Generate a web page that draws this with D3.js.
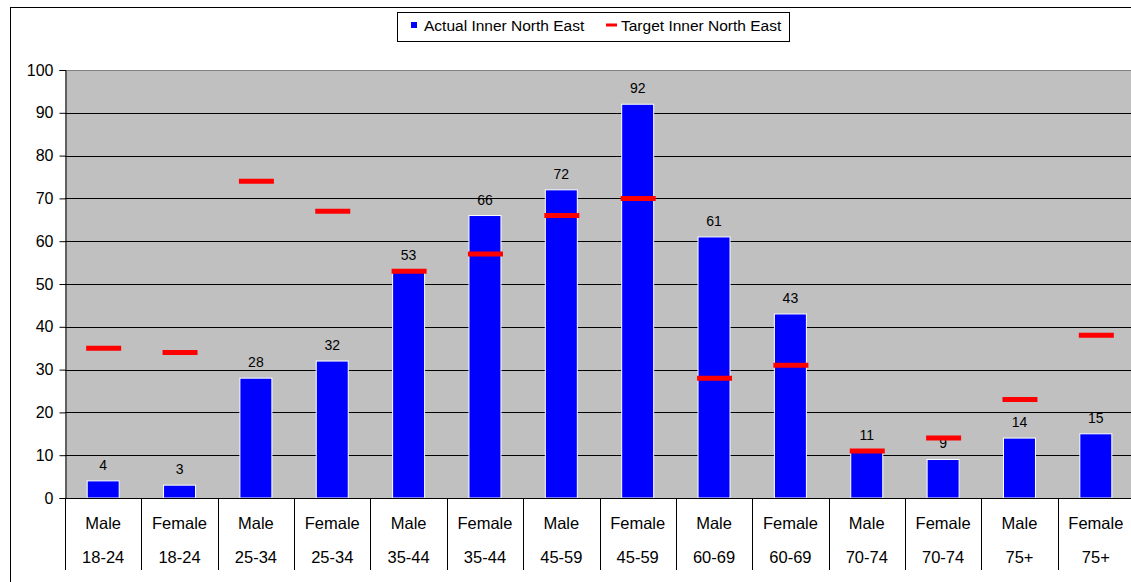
<!DOCTYPE html>
<html><head><meta charset="utf-8">
<script src="https://cdn.jsdelivr.net/npm/d3@7"></script>
<style>body{margin:0;background:#fff}svg{display:block;font-family:"Liberation Sans",Arial,sans-serif}</style>
</head><body>
<svg id="c" width="1131" height="582"></svg>
<script>
const genders = ["Male","Female","Male","Female","Male","Female","Male","Female","Male","Female","Male","Female","Male","Female"];
const ages = ["18-24","18-24","25-34","25-34","35-44","35-44","45-59","45-59","60-69","60-69","70-74","70-74","75+","75+"];
const actual = [4,3,28,32,53,66,72,92,61,43,11,9,14,15];
const target = [35,34,74,67,53,57,66,70,28,31,11,14,23,38];
const yTicks = [0,10,20,30,40,50,60,70,80,90,100];
const seriesNames = ["Actual Inner North East","Target Inner North East"];

const svg = d3.select("#c");
const L=65, R=1134, T=70, B=498;
const idx = d3.range(actual.length);
const x = d3.scaleBand().domain(idx).range([L,R]).paddingInner(0).paddingOuter(0);
const y = d3.scaleLinear().domain([0,100]).range([B,T]);

// outer frame
svg.append("line").attr("x1",10).attr("x2",1131).attr("y1",7.5).attr("y2",7.5).attr("stroke","#000");
svg.append("line").attr("x1",10.5).attr("x2",10.5).attr("y1",7).attr("y2",582).attr("stroke","#000");

// plot bg
svg.append("rect").attr("x",L).attr("y",T).attr("width",R-L).attr("height",B-T).attr("fill","#c0c0c0");
svg.append("line").attr("x1",L).attr("x2",R).attr("y1",T+0.5).attr("y2",T+0.5).attr("stroke","#808080");

// gridlines
svg.append("g").selectAll("line").data(yTicks.filter(d=>d>0&&d<100)).join("line")
  .attr("x1",L).attr("x2",R).attr("y1",d=>Math.round(y(d))+0.5).attr("y2",d=>Math.round(y(d))+0.5)
  .attr("stroke","#000");

// y axis
const ya = svg.append("g").attr("transform",`translate(${L+0.5},0)`)
  .call(d3.axisLeft(y).tickValues(yTicks).tickSize(6).tickPadding(6).tickFormat(d3.format("d")));
ya.select(".domain").attr("stroke","#000");
ya.selectAll("line").attr("stroke","#000");
ya.selectAll("text").attr("font-size",16).attr("fill","#000").attr("font-family","Liberation Sans, Arial, sans-serif");

// bars
svg.append("g").selectAll("rect").data(idx).join("rect")
  .attr("x",i=>x(i)+x.bandwidth()/2-16).attr("width",32)
  .attr("y",i=>y(actual[i])).attr("height",i=>B-y(actual[i]))
  .attr("fill","#0000ff").attr("stroke","#fff").attr("stroke-width",1);

// value labels
svg.append("g").selectAll("text").data(idx).join("text")
  .attr("x",i=>x(i)+x.bandwidth()/2).attr("y",i=>y(actual[i])-11)
  .attr("text-anchor","middle").attr("font-size",14).attr("fill","#000")
  .text(i=>actual[i]);

// targets
svg.append("g").selectAll("line").data(idx).join("line")
  .attr("x1",i=>x(i)+x.bandwidth()/2-17).attr("x2",i=>x(i)+x.bandwidth()/2+18)
  .attr("y1",i=>y(target[i])).attr("y2",i=>y(target[i]))
  .attr("stroke","#ff0000").attr("stroke-width",5);

// baseline
svg.append("line").attr("x1",L).attr("x2",R).attr("y1",B+0.5).attr("y2",B+0.5).attr("stroke","#000");

// table dividers
svg.append("g").selectAll("line").data(d3.range(actual.length+1)).join("line")
  .attr("x1",i=>Math.round(i<actual.length?x(i):R)+0.5).attr("x2",i=>Math.round(i<actual.length?x(i):R)+0.5)
  .attr("y1",B).attr("y2",570).attr("stroke","#000");

const lab = svg.append("g").attr("font-size",16.5).attr("fill","#000").attr("text-anchor","middle");
lab.selectAll("text.g").data(idx).join("text").attr("class","g")
  .attr("x",i=>x(i)+x.bandwidth()/2).attr("y",529).text(i=>genders[i]);
lab.selectAll("text.a").data(idx).join("text").attr("class","a")
  .attr("x",i=>x(i)+x.bandwidth()/2).attr("y",563).text(i=>ages[i]);

// legend
const lg = svg.append("g");
lg.append("rect").attr("x",397.5).attr("y",12.5).attr("width",392).attr("height",29).attr("fill","#fff").attr("stroke","#000");
lg.append("rect").attr("x",411).attr("y",22).attr("width",6).attr("height",6).attr("fill","#0000ff");
lg.append("text").attr("x",424).attr("y",31).attr("font-size",15.5).text(seriesNames[0]);
lg.append("line").attr("x1",606).attr("x2",617).attr("y1",25).attr("y2",25).attr("stroke","#ff0000").attr("stroke-width",3);
lg.append("text").attr("x",621).attr("y",31).attr("font-size",15.5).text(seriesNames[1]);
</script>
</body></html>
